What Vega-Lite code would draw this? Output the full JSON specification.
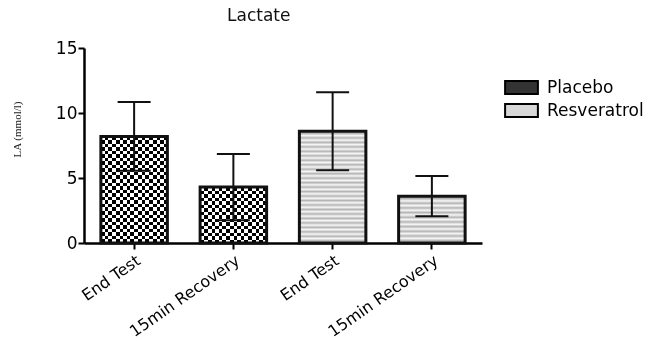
{
  "$schema": "https://vega.github.io/schema/vega-lite/v6.json",
  "width": 398,
  "height": 195,
  "autosize": {"type": "none"},
  "padding": {"left": 84, "top": 48, "right": 180, "bottom": 98},
  "title": {"text": "Lactate", "anchor": "start", "dx": 216, "offset": 14, "fontSize": 17, "fontWeight": "normal", "color": "#111", "font": "DejaVu Sans"},
  "data": {"values": [
    {"key": "P:End Test", "group": "Placebo", "mean": 8.2, "low": 5.55, "high": 10.85},
    {"key": "P:15min Recovery", "group": "Placebo", "mean": 4.3, "low": 1.75, "high": 6.85},
    {"key": "R:End Test", "group": "Resveratrol", "mean": 8.6, "low": 5.6, "high": 11.6},
    {"key": "R:15min Recovery", "group": "Resveratrol", "mean": 3.6, "low": 2.05, "high": 5.15}
  ]},
  "encoding": {
    "x": {
      "field": "key", "type": "nominal",
      "scale": {"domain": ["P:End Test", "P:15min Recovery", "R:End Test", "R:15min Recovery"], "paddingInner": 0.33, "paddingOuter": 0.17},
      "axis": {"title": null, "labelAngle": -35, "labelFontSize": 16, "labelColor": "black", "domainColor": "black", "domainWidth": 2.5, "tickColor": "black", "tickWidth": 2, "tickSize": 6, "labelPadding": 3, "labelExpr": "slice(datum.label, 2)"}
    }
  },
  "layer": [
    {
      "mark": {"type": "bar"},
      "encoding": {
        "y": {"field": "mean", "type": "quantitative", "scale": {"domain": [0, 15], "nice": false},
          "axis": {"values": [0, 5, 10, 15], "grid": false, "title": "LA (mmol/l)", "titleFont": "Liberation Serif", "titleFontSize": 11, "titleFontWeight": "normal", "titleColor": "#222", "titleX": -67, "titleY": 81, "titleAlign": "center", "titleBaseline": "middle", "titleAngle": -90, "labelFontSize": 17, "labelColor": "black", "domainColor": "black", "domainWidth": 2.5, "tickColor": "black", "tickWidth": 2, "tickSize": 6, "labelPadding": 1}},
        "fill": {"field": "group", "type": "nominal", "scale": {"domain": ["Placebo", "Resveratrol"], "range": ["#333333", "#d8d8d8"]},
          "legend": {"orient": "none", "legendX": 426, "legendY": 28, "title": null, "symbolType": "M-1.6,-0.64H1.6V0.64H-1.6Z", "symbolSize": 420, "symbolStrokeColor": "black", "symbolStrokeWidth": 2, "labelFontSize": 17, "labelColor": "black", "rowPadding": 0, "labelOffset": 14}}
      }
    },
    {
      "transform": [{"filter": "datum.group == 'Placebo'"}],
      "mark": {"type": "bar", "fill": {"gradient": "linear", "x1": 0, "y1": 0, "x2": 1, "y2": 0, "stops": [
        {"offset": 0, "color": "#000"}, {"offset": 0.06, "color": "#000"}, {"offset": 0.06, "color": "#fff"}, {"offset": 0.1111, "color": "#fff"},
        {"offset": 0.1111, "color": "#000"}, {"offset": 0.1711, "color": "#000"}, {"offset": 0.1711, "color": "#fff"}, {"offset": 0.2222, "color": "#fff"},
        {"offset": 0.2222, "color": "#000"}, {"offset": 0.2822, "color": "#000"}, {"offset": 0.2822, "color": "#fff"}, {"offset": 0.3333, "color": "#fff"},
        {"offset": 0.3333, "color": "#000"}, {"offset": 0.3933, "color": "#000"}, {"offset": 0.3933, "color": "#fff"}, {"offset": 0.4444, "color": "#fff"},
        {"offset": 0.4444, "color": "#000"}, {"offset": 0.5044, "color": "#000"}, {"offset": 0.5044, "color": "#fff"}, {"offset": 0.5556, "color": "#fff"},
        {"offset": 0.5556, "color": "#000"}, {"offset": 0.6156, "color": "#000"}, {"offset": 0.6156, "color": "#fff"}, {"offset": 0.6667, "color": "#fff"},
        {"offset": 0.6667, "color": "#000"}, {"offset": 0.7267, "color": "#000"}, {"offset": 0.7267, "color": "#fff"}, {"offset": 0.7778, "color": "#fff"},
        {"offset": 0.7778, "color": "#000"}, {"offset": 0.8378, "color": "#000"}, {"offset": 0.8378, "color": "#fff"}, {"offset": 0.8889, "color": "#fff"},
        {"offset": 0.8889, "color": "#000"}, {"offset": 0.9489, "color": "#000"}, {"offset": 0.9489, "color": "#fff"}, {"offset": 1, "color": "#fff"}
      ]}},
      "encoding": {"y": {"field": "mean", "type": "quantitative"}}
    },
    {
      "transform": [{"filter": "datum.key == 'P:End Test'"}],
      "mark": {"type": "bar", "blend": "difference", "fill": {"gradient": "linear", "x1": 0, "y1": 0, "x2": 0, "y2": 1, "stops": [
        {"offset": 0, "color": "#fff"}, {"offset": 0.0333, "color": "#fff"}, {"offset": 0.0333, "color": "#000"}, {"offset": 0.0667, "color": "#000"},
        {"offset": 0.0667, "color": "#fff"}, {"offset": 0.1, "color": "#fff"}, {"offset": 0.1, "color": "#000"}, {"offset": 0.1333, "color": "#000"},
        {"offset": 0.1333, "color": "#fff"}, {"offset": 0.1667, "color": "#fff"}, {"offset": 0.1667, "color": "#000"}, {"offset": 0.2, "color": "#000"},
        {"offset": 0.2, "color": "#fff"}, {"offset": 0.2333, "color": "#fff"}, {"offset": 0.2333, "color": "#000"}, {"offset": 0.2667, "color": "#000"},
        {"offset": 0.2667, "color": "#fff"}, {"offset": 0.3, "color": "#fff"}, {"offset": 0.3, "color": "#000"}, {"offset": 0.3333, "color": "#000"},
        {"offset": 0.3333, "color": "#fff"}, {"offset": 0.3667, "color": "#fff"}, {"offset": 0.3667, "color": "#000"}, {"offset": 0.4, "color": "#000"},
        {"offset": 0.4, "color": "#fff"}, {"offset": 0.4333, "color": "#fff"}, {"offset": 0.4333, "color": "#000"}, {"offset": 0.4667, "color": "#000"},
        {"offset": 0.4667, "color": "#fff"}, {"offset": 0.5, "color": "#fff"}, {"offset": 0.5, "color": "#000"}, {"offset": 0.5333, "color": "#000"},
        {"offset": 0.5333, "color": "#fff"}, {"offset": 0.5667, "color": "#fff"}, {"offset": 0.5667, "color": "#000"}, {"offset": 0.6, "color": "#000"},
        {"offset": 0.6, "color": "#fff"}, {"offset": 0.6333, "color": "#fff"}, {"offset": 0.6333, "color": "#000"}, {"offset": 0.6667, "color": "#000"},
        {"offset": 0.6667, "color": "#fff"}, {"offset": 0.7, "color": "#fff"}, {"offset": 0.7, "color": "#000"}, {"offset": 0.7333, "color": "#000"},
        {"offset": 0.7333, "color": "#fff"}, {"offset": 0.7667, "color": "#fff"}, {"offset": 0.7667, "color": "#000"}, {"offset": 0.8, "color": "#000"},
        {"offset": 0.8, "color": "#fff"}, {"offset": 0.8333, "color": "#fff"}, {"offset": 0.8333, "color": "#000"}, {"offset": 0.8667, "color": "#000"},
        {"offset": 0.8667, "color": "#fff"}, {"offset": 0.9, "color": "#fff"}, {"offset": 0.9, "color": "#000"}, {"offset": 0.9333, "color": "#000"},
        {"offset": 0.9333, "color": "#fff"}, {"offset": 0.9667, "color": "#fff"}, {"offset": 0.9667, "color": "#000"}, {"offset": 1, "color": "#000"}
      ]}},
      "encoding": {"y": {"field": "mean", "type": "quantitative"}}
    },
    {
      "transform": [{"filter": "datum.key == 'P:15min Recovery'"}],
      "mark": {"type": "bar", "blend": "difference", "fill": {"gradient": "linear", "x1": 0, "y1": 0, "x2": 0, "y2": 1, "stops": [
        {"offset": 0, "color": "#fff"}, {"offset": 0.0625, "color": "#fff"}, {"offset": 0.0625, "color": "#000"}, {"offset": 0.125, "color": "#000"},
        {"offset": 0.125, "color": "#fff"}, {"offset": 0.1875, "color": "#fff"}, {"offset": 0.1875, "color": "#000"}, {"offset": 0.25, "color": "#000"},
        {"offset": 0.25, "color": "#fff"}, {"offset": 0.3125, "color": "#fff"}, {"offset": 0.3125, "color": "#000"}, {"offset": 0.375, "color": "#000"},
        {"offset": 0.375, "color": "#fff"}, {"offset": 0.4375, "color": "#fff"}, {"offset": 0.4375, "color": "#000"}, {"offset": 0.5, "color": "#000"},
        {"offset": 0.5, "color": "#fff"}, {"offset": 0.5625, "color": "#fff"}, {"offset": 0.5625, "color": "#000"}, {"offset": 0.625, "color": "#000"},
        {"offset": 0.625, "color": "#fff"}, {"offset": 0.6875, "color": "#fff"}, {"offset": 0.6875, "color": "#000"}, {"offset": 0.75, "color": "#000"},
        {"offset": 0.75, "color": "#fff"}, {"offset": 0.8125, "color": "#fff"}, {"offset": 0.8125, "color": "#000"}, {"offset": 0.875, "color": "#000"},
        {"offset": 0.875, "color": "#fff"}, {"offset": 0.9375, "color": "#fff"}, {"offset": 0.9375, "color": "#000"}, {"offset": 1, "color": "#000"}
      ]}},
      "encoding": {"y": {"field": "mean", "type": "quantitative"}}
    },
    {
      "transform": [{"filter": "datum.key == 'R:End Test'"}],
      "mark": {"type": "bar", "fill": {"gradient": "linear", "x1": 0, "y1": 0, "x2": 0, "y2": 1, "stops": [
        {"offset": 0, "color": "#f8f8f8"}, {"offset": 0.02, "color": "#b4b4b4"}, {"offset": 0.04, "color": "#f8f8f8"}, {"offset": 0.06, "color": "#b4b4b4"},
        {"offset": 0.08, "color": "#f8f8f8"}, {"offset": 0.1, "color": "#b4b4b4"}, {"offset": 0.12, "color": "#f8f8f8"}, {"offset": 0.14, "color": "#b4b4b4"},
        {"offset": 0.16, "color": "#f8f8f8"}, {"offset": 0.18, "color": "#b4b4b4"}, {"offset": 0.2, "color": "#f8f8f8"}, {"offset": 0.22, "color": "#b4b4b4"},
        {"offset": 0.24, "color": "#f8f8f8"}, {"offset": 0.26, "color": "#b4b4b4"}, {"offset": 0.28, "color": "#f8f8f8"}, {"offset": 0.3, "color": "#b4b4b4"},
        {"offset": 0.32, "color": "#f8f8f8"}, {"offset": 0.34, "color": "#b4b4b4"}, {"offset": 0.36, "color": "#f8f8f8"}, {"offset": 0.38, "color": "#b4b4b4"},
        {"offset": 0.4, "color": "#f8f8f8"}, {"offset": 0.42, "color": "#b4b4b4"}, {"offset": 0.44, "color": "#f8f8f8"}, {"offset": 0.46, "color": "#b4b4b4"},
        {"offset": 0.48, "color": "#f8f8f8"}, {"offset": 0.5, "color": "#b4b4b4"}, {"offset": 0.52, "color": "#f8f8f8"}, {"offset": 0.54, "color": "#b4b4b4"},
        {"offset": 0.56, "color": "#f8f8f8"}, {"offset": 0.58, "color": "#b4b4b4"}, {"offset": 0.6, "color": "#f8f8f8"}, {"offset": 0.62, "color": "#b4b4b4"},
        {"offset": 0.64, "color": "#f8f8f8"}, {"offset": 0.66, "color": "#b4b4b4"}, {"offset": 0.68, "color": "#f8f8f8"}, {"offset": 0.7, "color": "#b4b4b4"},
        {"offset": 0.72, "color": "#f8f8f8"}, {"offset": 0.74, "color": "#b4b4b4"}, {"offset": 0.76, "color": "#f8f8f8"}, {"offset": 0.78, "color": "#b4b4b4"},
        {"offset": 0.8, "color": "#f8f8f8"}, {"offset": 0.82, "color": "#b4b4b4"}, {"offset": 0.84, "color": "#f8f8f8"}, {"offset": 0.86, "color": "#b4b4b4"},
        {"offset": 0.88, "color": "#f8f8f8"}, {"offset": 0.9, "color": "#b4b4b4"}, {"offset": 0.92, "color": "#f8f8f8"}, {"offset": 0.94, "color": "#b4b4b4"},
        {"offset": 0.96, "color": "#f8f8f8"}, {"offset": 0.98, "color": "#b4b4b4"}, {"offset": 1, "color": "#f8f8f8"}
      ]}},
      "encoding": {"y": {"field": "mean", "type": "quantitative"}}
    },
    {
      "transform": [{"filter": "datum.key == 'R:15min Recovery'"}],
      "mark": {"type": "bar", "fill": {"gradient": "linear", "x1": 0, "y1": 0, "x2": 0, "y2": 1, "stops": [
        {"offset": 0, "color": "#f8f8f8"}, {"offset": 0.05, "color": "#b4b4b4"}, {"offset": 0.1, "color": "#f8f8f8"}, {"offset": 0.15, "color": "#b4b4b4"},
        {"offset": 0.2, "color": "#f8f8f8"}, {"offset": 0.25, "color": "#b4b4b4"}, {"offset": 0.3, "color": "#f8f8f8"}, {"offset": 0.35, "color": "#b4b4b4"},
        {"offset": 0.4, "color": "#f8f8f8"}, {"offset": 0.45, "color": "#b4b4b4"}, {"offset": 0.5, "color": "#f8f8f8"}, {"offset": 0.55, "color": "#b4b4b4"},
        {"offset": 0.6, "color": "#f8f8f8"}, {"offset": 0.65, "color": "#b4b4b4"}, {"offset": 0.7, "color": "#f8f8f8"}, {"offset": 0.75, "color": "#b4b4b4"},
        {"offset": 0.8, "color": "#f8f8f8"}, {"offset": 0.85, "color": "#b4b4b4"}, {"offset": 0.9, "color": "#f8f8f8"}, {"offset": 0.95, "color": "#b4b4b4"},
        {"offset": 1, "color": "#f8f8f8"}
      ]}},
      "encoding": {"y": {"field": "mean", "type": "quantitative"}}
    },
    {
      "mark": {"type": "bar", "fill": "transparent", "stroke": "#111", "strokeWidth": 3},
      "encoding": {"y": {"field": "mean", "type": "quantitative"}}
    },
    {
      "mark": {"type": "rule", "color": "#111", "strokeWidth": 2},
      "encoding": {"y": {"field": "low", "type": "quantitative"}, "y2": {"field": "high"}}
    },
    {
      "mark": {"type": "tick", "color": "#111", "size": 33, "thickness": 2},
      "encoding": {"y": {"field": "high", "type": "quantitative"}}
    },
    {
      "mark": {"type": "tick", "color": "#111", "size": 33, "thickness": 2},
      "encoding": {"y": {"field": "low", "type": "quantitative"}}
    }
  ],
  "config": {"view": {"stroke": null}, "font": "DejaVu Sans", "tick": {"opacity": 1}}
}
